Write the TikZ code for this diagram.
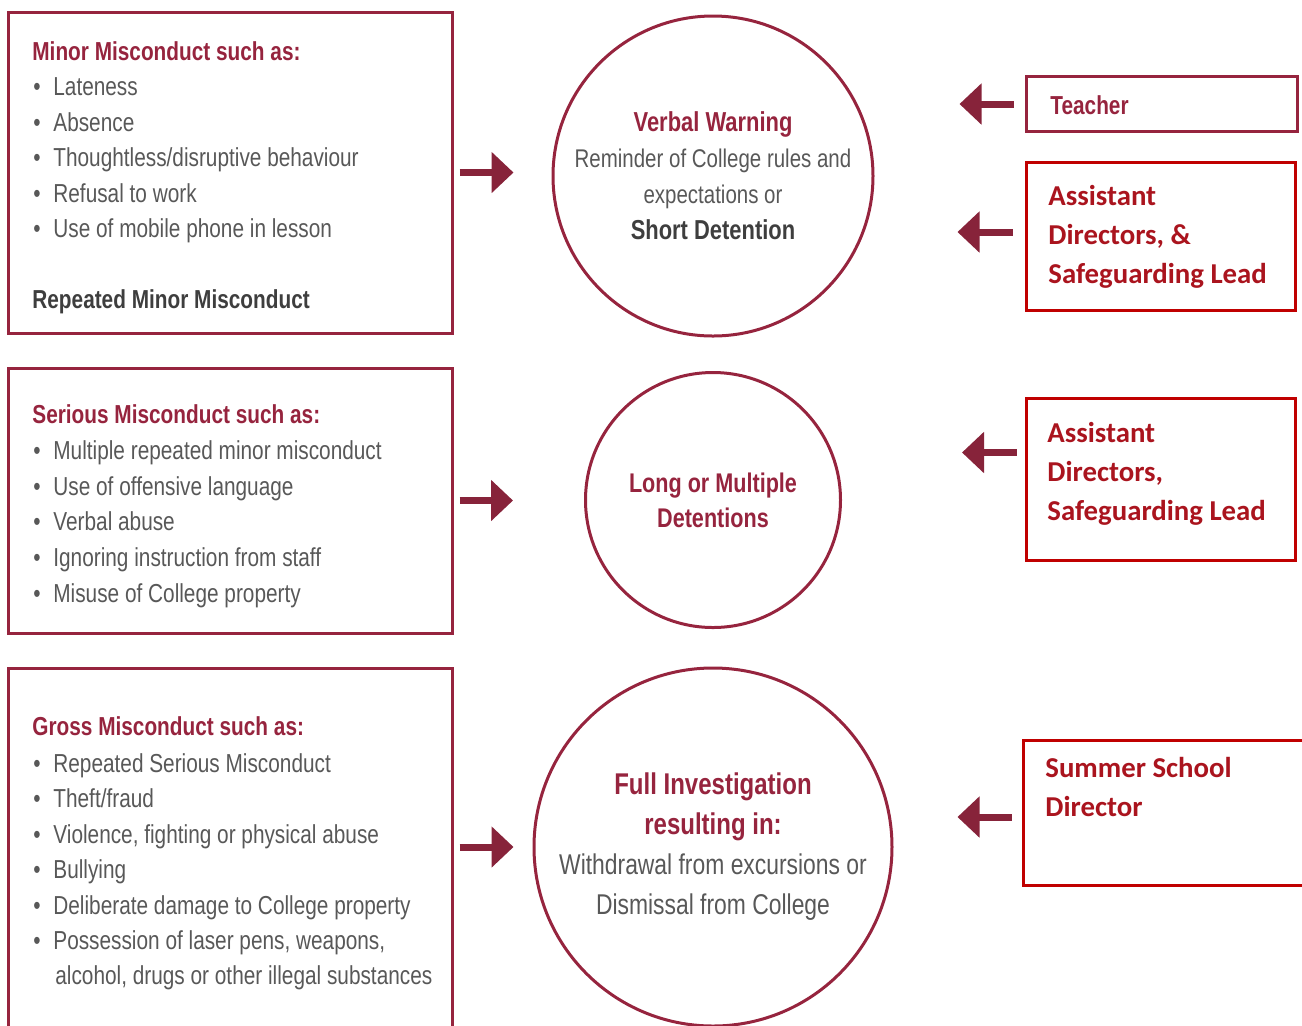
\documentclass[tikz,border=0pt]{standalone}
\usepackage{fontspec}
\usepackage{tikz}
\usetikzlibrary{arrows.meta}
\newfontfamily\condfont[FakeStretch=0.8]{Liberation Sans}
\newfontfamily\boxfont{Carlito}
\definecolor{granate}{RGB}{150,36,62}
\definecolor{flecha}{RGB}{135,35,58}
\definecolor{rojo}{RGB}{192,0,0}
\definecolor{rojotxt}{RGB}{170,20,30}
\definecolor{gris}{RGB}{88,88,88}
\definecolor{grisosc}{RGB}{62,62,62}
\newcommand{\punto}{\makebox[10pt][l]{\textbullet}}
\tikzset{
  caja/.style={draw=granate,line width=1.5pt,minimum width=222pt,inner sep=0pt},
  circulo/.style={circle,draw=granate,line width=1.5pt,inner sep=0pt,align=center,
    font=\condfont\fontsize{12.8}{18}\selectfont,text=gris},
  quien/.style={draw=rojo,line width=1.5pt,inner sep=0pt},
  linea/.style={anchor=base west,inner sep=0pt,font=\condfont\fontsize{13}{16}\selectfont,text=gris},
  titulo/.style={linea,font=\condfont\bfseries\fontsize{13}{16}\selectfont,text=granate},
  nombre/.style={anchor=north west,inner sep=0pt,align=left,
    font=\boxfont\bfseries\fontsize{14.4}{19.5}\selectfont,text=rojotxt},
  flechagorda/.style={draw=flecha,line width=3.5pt,-{Triangle[length=11pt,width=20pt]}},
}

\begin{document}
\begin{tikzpicture}[x=0.5pt,y=-0.5pt]
   \useasboundingbox (0,0) rectangle (1302,1025);
   %cajas izquierda
   \node[caja,minimum height=160.5pt] (minor) at (230,172.5) {};
   \node[caja,minimum height=132.5pt] (serious) at (230,500.5) {};
   \node[caja,minimum height=190pt] (gross) at (230,858) {};
   %texto minor
   \node[titulo] (minortit) at (32,60) {Minor Misconduct such as:};
   \foreach \y/\t [count=\i] in {95.5/Lateness,131/Absence,166.5/{Thoughtless/disruptive behaviour},
      202/{Refusal to work},237.5/{Use of mobile phone in lesson}}
      \node[linea] (minor\i) at (33,\y) {\punto\t};
   \node[titulo,text=grisosc] (minorrep) at (32,308) {Repeated Minor Misconduct};
   %texto serious
   \node[titulo] (serioustit) at (32,423) {Serious Misconduct such as:};
   \foreach \y/\t [count=\i] in {459/{Multiple repeated minor misconduct},495/{Use of offensive language},
      530.5/{Verbal abuse},566/{Ignoring instruction from staff},602/{Misuse of College property}}
      \node[linea] (serious\i) at (33,\y) {\punto\t};
   %texto gross
   \node[titulo] (grosstit) at (32,735) {Gross Misconduct such as:};
   \foreach \y/\t [count=\i] in {772/{Repeated Serious Misconduct},807.5/{Theft/fraud},
      843/{Violence, fighting or physical abuse},878.5/{Bullying},914/{Deliberate damage to College property},
      949.5/{Possession of laser pens, weapons,}}
      \node[linea] (gross\i) at (33,\y) {\punto\t};
   \node[linea] (grosswrap) at (55,984.5) {alcohol, drugs or other illegal substances};
   %circulos
   \node[circulo,minimum size=160pt] (warning) at (713,176)
      {\textcolor{granate}{\bfseries\fontsize{13.7}{18}\selectfont Verbal Warning}\\
       Reminder of College rules and\\expectations or\\
       \textcolor{grisosc}{\bfseries\fontsize{13.7}{18}\selectfont Short Detention}};
   \node[circulo,minimum size=127.5pt,font=\condfont\bfseries\fontsize{13.5}{17.5}\selectfont,text=granate]
      (detention) at (713,500) {Long or Multiple\\Detentions};
   \node[circulo,minimum size=179pt,font=\condfont\fontsize{14.3}{20}\selectfont] (full) at (713,847)
      {\textcolor{granate}{\bfseries\fontsize{15}{20}\selectfont Full Investigation}\\
       \textcolor{granate}{\bfseries\fontsize{15}{20}\selectfont resulting in:}\\
       Withdrawal from excursions or\\Dismissal from College};
   %cajas derecha
   \node[quien,draw=granate,minimum width=135.5pt,minimum height=27.5pt] (teacher) at (1161.5,104) {};
   \node[titulo] (teachertxt) at (1050,114) {Teacher};
   \node[quien,minimum width=134.5pt,minimum height=74pt] (ad1) at (1160.5,236) {};
   \node[nombre] (ad1txt) at (1048,185) {Assistant\\Directors, \&\\Safeguarding Lead};
   \node[quien,minimum width=134.5pt,minimum height=81pt] (ad2) at (1160.5,479) {};
   \node[nombre] (ad2txt) at (1047,421.5) {Assistant\\Directors,\\Safeguarding Lead};
   \node[quien,minimum width=148.5pt,minimum height=72.5pt] (ssd) at (1171.5,813) {};
   \node[nombre] (ssdtxt) at (1045,757) {Summer School\\Director};
   %flechas
   \draw[flechagorda,shorten <=3pt,shorten >=19pt] (minor.east) -- (minor.east -| warning.west);
   \draw[flechagorda,shorten <=3pt,shorten >=35.5pt] (serious.east) -- (serious.east -| detention.west);
   \draw[flechagorda,shorten <=3pt,shorten >=9.5pt] (full.west -| gross.east) -- (full.west);
   \coordinate (f1) at (teacher.west);
   \coordinate (f2) at ([yshift=2pt]ad1.west);
   \coordinate (f3) at ([yshift=13.25pt]ad2.west);
   \coordinate (f4) at ([yshift=-2pt]ssd.west);
   \draw[flechagorda,shorten <=5.5pt,shorten >=42.5pt] (f1) -- (f1 -| warning.east);
   \draw[flechagorda,shorten <=6pt,shorten >=41.5pt] (f2) -- (f2 -| warning.east);
   \draw[flechagorda,shorten <=4pt,shorten >=60pt] (f3) -- (f3 -| detention.east);
   \draw[flechagorda,shorten <=5pt,shorten >=32pt] (f4) -- (f4 -| full.east);
\end{tikzpicture}
\end{document}
